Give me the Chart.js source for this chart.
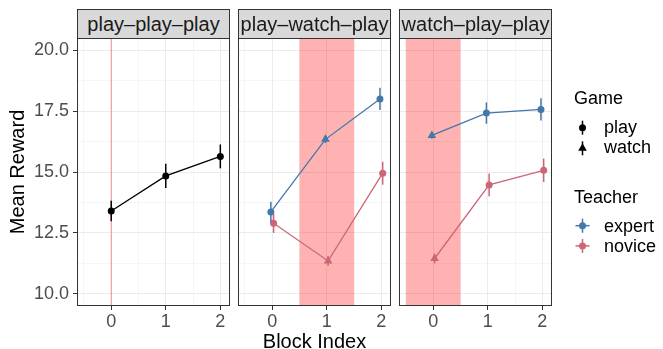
<!DOCTYPE html>
<html><head><meta charset="utf-8">
<script src="https://cdn.jsdelivr.net/npm/chart.js@4.4.1/dist/chart.umd.min.js"></script>
<style>
html,body{margin:0;padding:0;background:#fff;overflow:hidden}
#wrap{position:relative;width:663px;height:349px;overflow:hidden;background:#fff;font-family:"Liberation Sans",Arial,Helvetica,sans-serif}
#wrap canvas{position:absolute;left:0;top:0}
.strip{position:absolute;top:9px;height:30px;box-sizing:border-box;border:1px solid #333;background:#D9D9D9;color:#1A1A1A;font-size:20px;line-height:28px;text-align:center;white-space:nowrap;overflow:hidden}
.lt{position:absolute;font-size:18px;line-height:18px;color:#000;white-space:nowrap}
#keys{position:absolute;left:0;top:0}
</style></head><body>
<div id="wrap">
<canvas id="c0" width="663" height="352"></canvas>
<canvas id="c1" width="663" height="352"></canvas>
<canvas id="c2" width="663" height="352"></canvas>
<div class="strip" id="s0"></div>
<div class="strip" id="s1"></div>
<div class="strip" id="s2"></div>
<svg id="keys" width="663" height="349"></svg>
<div class="lt" id="lg0" style="left:574px;top:89px"></div>
<div class="lt" id="lg1" style="left:604px;top:118px"></div>
<div class="lt" id="lg2" style="left:604px;top:138px"></div>
<div class="lt" id="lt0" style="left:574px;top:187.5px"></div>
<div class="lt" id="lt1" style="left:604px;top:216.5px"></div>
<div class="lt" id="lt2" style="left:604px;top:237px"></div>
</div>
<script>
// ---------- data ----------
const facetLabels = ["play\u2013play\u2013play", "play\u2013watch\u2013play", "watch\u2013play\u2013play"];
const blockIndex = [0, 1, 2];
const gameByFacet = [["play","play","play"], ["play","watch","play"], ["watch","play","play"]];
const watchStart = [0, 0.5, -0.5];
const watchEnd   = [0, 1.5,  0.5];

const pppMean = [13.40, 14.84, 15.64];
const pppErr  = [0.42, 0.50, 0.49];
const pwpExpertMean = [13.36, 16.34, 18.00];
const pwpExpertErr  = [0.42, 0.15, 0.46];
const pwpNoviceMean = [12.90, 11.35, 14.95];
const pwpNoviceErr  = [0.40, 0.20, 0.47];
const wppExpertMean = [16.50, 17.42, 17.57];
const wppExpertErr  = [0.14, 0.44, 0.46];
const wppNoviceMean = [11.45, 14.47, 15.07];
const wppNoviceErr  = [0.20, 0.47, 0.48];

const yTickValues = [10, 12.5, 15, 17.5, 20];
const yMinorValues = [11.25, 13.75, 16.25, 18.75];
const xTickValues = [0, 1, 2];
const xMinorValues = [-0.5, 0.5, 1.5];

const gameLevels = ["play", "watch"];
const teacherLevels = ["expert", "novice"];
const xTitle = "Block Index";
const yTitle = "Mean Reward";
const gameTitle = "Game";
const teacherTitle = "Teacher";

// ---------- styling ----------
const FONT = '"Liberation Sans", Arial, Helvetica, sans-serif';
const COLORS = {all: "#000000", expert: "#4477AA", novice: "#CC6677"};
const DODGE = {all: 0, expert: -0.025, novice: 0.025};
const PANELS = [{left: 77, right: 230}, {left: 238, right: 391}, {left: 399, right: 552}];
const CW = 663, CH = 352, TOP = 38, XAXIS_H = 46;

const facetSeries = [
  [{name: "all", mean: pppMean, err: pppErr}],
  [{name: "expert", mean: pwpExpertMean, err: pwpExpertErr}, {name: "novice", mean: pwpNoviceMean, err: pwpNoviceErr}],
  [{name: "expert", mean: wppExpertMean, err: wppExpertErr}, {name: "novice", mean: wppNoviceMean, err: wppNoviceErr}]
];

const yGrid = yTickValues.concat(yMinorValues).sort((a,b)=>a-b);
const xGrid = xTickValues.concat(xMinorValues).sort((a,b)=>a-b);

const decoPlugin = {
  id: "deco",
  beforeDatasetsDraw(chart, args, opts) {
    const {ctx, chartArea: a, scales: {x}} = chart;
    const x0 = x.getPixelForValue(opts.start), x1 = x.getPixelForValue(opts.end);
    ctx.save();
    ctx.beginPath(); ctx.rect(a.left, a.top, a.right - a.left, a.bottom - a.top); ctx.clip();
    if (Math.abs(x1 - x0) < 0.5) {
      ctx.strokeStyle = "rgba(245,60,60,0.5)"; ctx.lineWidth = 1.1;
      ctx.beginPath(); ctx.moveTo(x0, a.top); ctx.lineTo(x0, a.bottom); ctx.stroke();
    } else {
      ctx.fillStyle = "rgba(255,0,0,0.3)";
      ctx.fillRect(x0, a.top, x1 - x0, a.bottom - a.top);
    }
    ctx.restore();
  },
  afterDatasetsDraw(chart) {
    const {ctx, scales: {y}} = chart;
    ctx.save();
    chart.data.datasets.forEach((ds, i) => {
      const meta = chart.getDatasetMeta(i);
      ctx.strokeStyle = ds.borderColor; ctx.lineWidth = 1.5;
      meta.data.forEach((el, j) => {
        const v = ds.data[j].y, e = ds.errors[j];
        ctx.beginPath();
        ctx.moveTo(el.x, y.getPixelForValue(v - e));
        ctx.lineTo(el.x, y.getPixelForValue(v + e));
        ctx.stroke();
      });
    });
    ctx.restore();
  },
  afterDraw(chart) {
    const {ctx, chartArea: a} = chart;
    ctx.save();
    ctx.strokeStyle = "#333333"; ctx.lineWidth = 1;
    ctx.strokeRect(a.left + 0.5, a.top + 0.5, a.right - a.left - 1, a.bottom - a.top - 1);
    ctx.restore();
  }
};

function isMajorY(c) { return c.tick ? yTickValues.includes(c.tick.value) : true; }
function isMajorX(c) { return c.tick ? xTickValues.includes(c.tick.value) : true; }

function makeChart(k) {
  const p = PANELS[k];
  const datasets = facetSeries[k].map(s => ({
    label: s.name,
    data: blockIndex.map((b, i) => ({x: b + DODGE[s.name], y: s.mean[i]})),
    errors: s.err,
    borderColor: COLORS[s.name],
    backgroundColor: COLORS[s.name],
    pointBackgroundColor: COLORS[s.name],
    pointBorderColor: COLORS[s.name],
    pointBorderWidth: 0,
    borderWidth: 1.3,
    tension: 0,
    fill: false,
    pointStyle: gameByFacet[k].map(g => g === "play" ? "circle" : "triangle"),
    pointRadius: gameByFacet[k].map(g => g === "play" ? 3.5 : 5)
  }));
  const first = k === 0;
  new Chart(document.getElementById("c" + k), {
    type: "line",
    data: {datasets},
    plugins: [decoPlugin],
    options: {
      responsive: false, animation: false,
      layout: {padding: {left: first ? 0 : p.left, right: CW - p.right, top: TOP, bottom: 0}},
      plugins: {legend: {display: false}, tooltip: {enabled: false}, deco: {start: watchStart[k], end: watchEnd[k]}},
      scales: {
        x: {
          type: "linear", min: -0.6275, max: 2.1775,
          afterBuildTicks: s => { s.ticks = xGrid.map(v => ({value: v})); },
          afterFit: s => { s.height = XAXIS_H; },
          ticks: {autoSkip: false, maxRotation: 0, minRotation: 0, color: "#4D4D4D", padding: 1,
                  font: {family: FONT, size: 18},
                  callback: v => xTickValues.includes(v) ? String(v) : ""},
          grid: {color: "#EBEBEB", lineWidth: c => isMajorX(c) ? 1 : 0.5, tickLength: 4,
                 tickColor: c => isMajorX(c) ? "#333333" : "rgba(0,0,0,0)"},
          border: {display: false},
          title: {display: k === 1, text: xTitle, color: "#000", font: {family: FONT, size: 20, lineHeight: 1}, padding: {top: 0, bottom: 0}}
        },
        y: {
          type: "linear", min: 9.5, max: 20.5, position: "left",
          afterBuildTicks: s => { s.ticks = yGrid.map(v => ({value: v})); },
          afterFit: s => { s.width = first ? p.left : 0; },
          ticks: {display: first, autoSkip: false, color: "#4D4D4D", padding: 4,
                  font: {family: FONT, size: 18},
                  callback: v => yTickValues.includes(v) ? v.toFixed(1) : ""},
          grid: {color: "#EBEBEB", lineWidth: c => isMajorY(c) ? 1 : 0.5, drawTicks: first, tickLength: 4,
                 tickColor: c => isMajorY(c) ? "#333333" : "rgba(0,0,0,0)"},
          border: {display: false},
          title: {display: first, text: yTitle, color: "#000", font: {family: FONT, size: 20, lineHeight: 1}, padding: {top: 8.5, bottom: 0}}
        }
      }
    }
  });
  const s = document.getElementById("s" + k);
  s.style.left = p.left + "px";
  s.style.width = (p.right - p.left) + "px";
  s.textContent = facetLabels[k];
}
[0, 1, 2].forEach(makeChart);

// ---------- legend ----------
document.getElementById("lg0").textContent = gameTitle;
document.getElementById("lg1").textContent = gameLevels[0];
document.getElementById("lg2").textContent = gameLevels[1];
document.getElementById("lt0").textContent = teacherTitle;
document.getElementById("lt1").textContent = teacherLevels[0];
document.getElementById("lt2").textContent = teacherLevels[1];

const svg = document.getElementById("keys");
const NS = "http://www.w3.org/2000/svg";
function el(tag, attrs) { const e = document.createElementNS(NS, tag); for (const k in attrs) e.setAttribute(k, attrs[k]); svg.appendChild(e); return e; }
const KX = 582.5;
const keyY = {play: 127.7, watch: 148.3, expert: 225.7, novice: 245.9};
el("line", {x1: KX, x2: KX, y1: keyY.play - 7, y2: keyY.play + 7, stroke: "#000", "stroke-width": 1.5});
el("circle", {cx: KX, cy: keyY.play, r: 3.5, fill: "#000"});
el("line", {x1: KX, x2: KX, y1: keyY.watch - 7, y2: keyY.watch + 7, stroke: "#000", "stroke-width": 1.5});
const r = 5, cy = keyY.watch;
el("polygon", {points: `${KX},${cy - r} ${KX + r * 0.866},${cy + r / 2} ${KX - r * 0.866},${cy + r / 2}`, fill: "#000"});
["expert", "novice"].forEach(t => {
  const yy = keyY[t];
  el("line", {x1: KX - 7, x2: KX + 7, y1: yy, y2: yy, stroke: COLORS[t], "stroke-width": 1.5});
  el("line", {x1: KX, x2: KX, y1: yy - 7, y2: yy + 7, stroke: COLORS[t], "stroke-width": 1.5});
  el("circle", {cx: KX, cy: yy, r: 3.5, fill: COLORS[t]});
});
</script>
</body></html>
